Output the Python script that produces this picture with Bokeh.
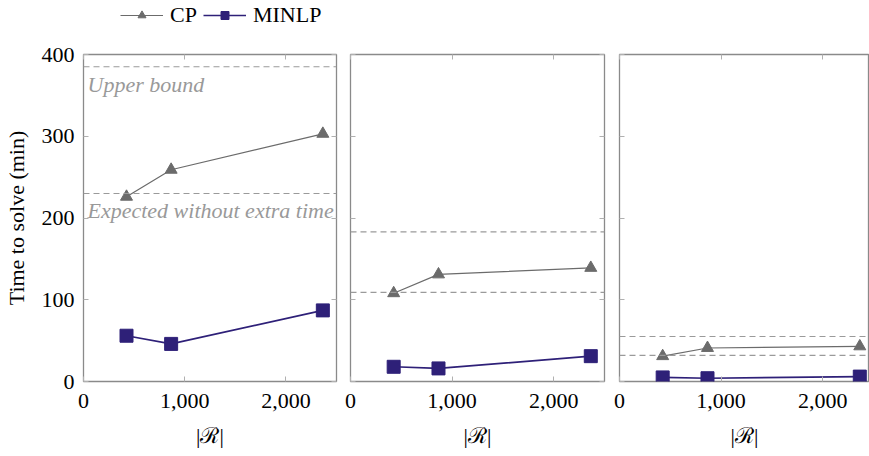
from bokeh.plotting import figure
from bokeh.models import (Range1d, LinearAxis, Label, Span, Legend, LegendItem,
                          NumeralTickFormatter, FixedTicker)
from bokeh.layouts import row, column
from bokeh.embed import file_html
from bokeh.resources import INLINE

# ---- data ----
instance_sizes = [425, 866, 2365]
cp_times = [[226, 259, 303], [108, 131, 139], [31, 41, 43]]
minlp_times = [[56, 46, 87], [18, 16, 31], [5, 4, 6]]
upper_bounds = [385, 183, 55]
expected_times = [230, 109, 32]
x_ticks = [0, 1000, 2000]
y_ticks = [0, 100, 200, 300, 400]
series_names = ["CP", "MINLP"]

FONT = "'Liberation Serif', 'Times New Roman', serif"
CP_COLOR = "#6b6b6b"
MINLP_COLOR = "#2e2078"
FRAME = "#8a8a8a"
TICK = "#b0b0b0"
DASH = "#9a9a9a"
FS = "22px"
LEG_H = 40


def style_axis(ax, labels=True, standoff=9):
    ax.axis_line_color = None
    ax.major_tick_line_color = TICK
    ax.major_tick_in = 5
    ax.major_tick_out = 0
    ax.minor_tick_line_color = None
    ax.major_label_text_font = FONT
    ax.major_label_text_font_size = FS if labels else "0px"
    ax.major_label_text_color = "black" if labels else None
    ax.major_label_standoff = standoff if labels else 0


def make_panel(i, width, bl, br, xmax):
    p = figure(width=width, height=456 - LEG_H, x_range=Range1d(0, xmax), y_range=Range1d(0, 400),
               output_backend="svg", toolbar_location=None,
               min_border_left=bl, min_border_right=br, min_border_top=54 - LEG_H,
               min_border_bottom=75)
    p.xgrid.visible = False
    p.ygrid.visible = False
    p.outline_line_color = FRAME
    p.outline_line_width = 1.3
    p.background_fill_color = "white"
    p.border_fill_color = "white"

    p.xaxis.ticker = FixedTicker(ticks=x_ticks)
    p.xaxis.formatter = NumeralTickFormatter(format="0,0")
    style_axis(p.xaxis[0], standoff=12)
    p.xaxis.axis_label = "|ℛ|"
    p.xaxis.axis_label_text_font = FONT
    p.xaxis.axis_label_text_font_size = FS
    p.xaxis.axis_label_text_font_style = "normal"
    p.xaxis.axis_label_text_color = "black"
    p.xaxis.axis_label_standoff = 12

    p.yaxis.ticker = FixedTicker(ticks=y_ticks)
    style_axis(p.yaxis[0], labels=(i == 0))
    if i == 0:
        p.yaxis.axis_label = "Time to solve (min)"
        p.yaxis.axis_label_text_font = FONT
        p.yaxis.axis_label_text_font_size = FS
        p.yaxis.axis_label_text_font_style = "normal"
        p.yaxis.axis_label_text_color = "black"
        p.yaxis.axis_label_standoff = 10

    top = LinearAxis(ticker=FixedTicker(ticks=x_ticks))
    style_axis(top, labels=False)
    p.add_layout(top, "above")
    if i < 2:
        right = LinearAxis(ticker=FixedTicker(ticks=y_ticks))
        style_axis(right, labels=False)
        p.add_layout(right, "right")

    for val in (upper_bounds[i], expected_times[i]):
        p.add_layout(Span(location=val, dimension="width", line_color=DASH,
                          line_dash="6 4", line_width=1.1))

    p.line(instance_sizes, cp_times[i], line_color=CP_COLOR, line_width=1.2)
    p.scatter(instance_sizes, cp_times[i], marker="triangle", size=12,
              fill_color=CP_COLOR, line_color=CP_COLOR)
    p.line(instance_sizes, minlp_times[i], line_color=MINLP_COLOR, line_width=1.6)
    p.scatter(instance_sizes, minlp_times[i], marker="square", size=13,
              fill_color=MINLP_COLOR, line_color=MINLP_COLOR)
    return p


p1 = make_panel(0, 82 + 254 + 7, 82, 7, 2500)
p2 = make_panel(1, 7 + 254 + 8, 7, 8, 2500)
p3 = make_panel(2, 869 - 343 - 269, 7, 0, 2500 * 250 / 254)

for txt, val in (("Upper bound", upper_bounds[0]), ("Expected without extra time", expected_times[0])):
    p1.add_layout(Label(x=0, y=val, x_offset=4, y_offset=-5, text=txt,
                        text_baseline="top", text_font=FONT, text_font_size=FS,
                        text_font_style="italic", text_color="#999999"))

# legend strip above the panels (its renderers lie outside this strip's ranges)
pl = figure(width=869, height=LEG_H, output_backend="svg", toolbar_location=None,
            x_axis_location=None, y_axis_location=None, min_border=0,
            x_range=Range1d(-2, -1), y_range=Range1d(-2, -1))
pl.outline_line_color = None
pl.xgrid.visible = False
pl.ygrid.visible = False
cl = pl.line(instance_sizes, cp_times[0], line_color=CP_COLOR, line_width=1.2)
cm = pl.scatter(instance_sizes, cp_times[0], marker="triangle", size=12,
                fill_color=CP_COLOR, line_color=CP_COLOR)
ml = pl.line(instance_sizes, minlp_times[0], line_color=MINLP_COLOR, line_width=1.6)
mm = pl.scatter(instance_sizes, minlp_times[0], marker="square", size=13,
                fill_color=MINLP_COLOR, line_color=MINLP_COLOR)
legend = Legend(items=[LegendItem(label=series_names[0], renderers=[cl, cm]),
                       LegendItem(label=series_names[1], renderers=[ml, mm])],
                orientation="horizontal", location=(120, 12),
                border_line_color=None, background_fill_alpha=0,
                label_text_font=FONT, label_text_font_size=FS, label_text_color="black",
                glyph_width=43, glyph_height=20, spacing=6, label_standoff=7,
                padding=2, margin=0)
pl.add_layout(legend)

layout = column(pl, row(p1, p2, p3, spacing=0), spacing=0)
open("out.html", "w").write(file_html(layout, INLINE))
